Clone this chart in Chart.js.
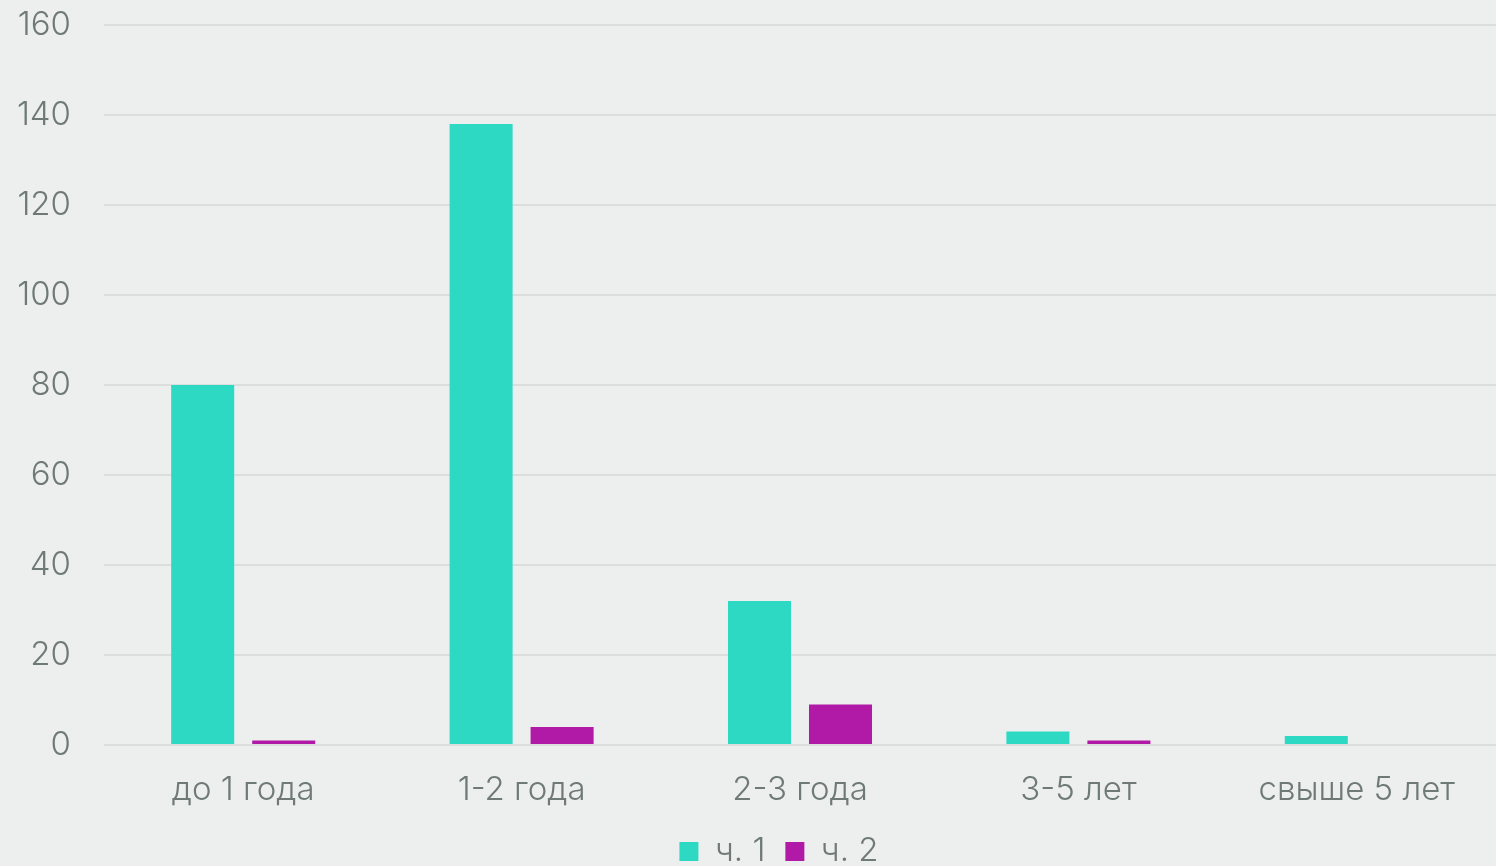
<!DOCTYPE html>
<html>
<head>
<meta charset="utf-8">
<script src="https://cdn.jsdelivr.net/npm/chart.js@4"></script>
<style>
  html, body { margin: 0; padding: 0; background: #edefee; }
  #wrap { width: 1496px; height: 866px; }
</style>
</head>
<body>
<div id="wrap"><canvas id="chart"></canvas></div>
<script>
const categories = ['до 1 года', '1-2 года', '2-3 года', '3-5 лет', 'свыше 5 лет']
const part1 = [80, 138, 32, 3, 2]
const part2 = [1, 4, 9, 1, 0]
const seriesNames = ['ч. 1', 'ч. 2']

const textColor = '#6f7a76'
const fontFamily = "'Inter', 'Lato', 'Open Sans', sans-serif"
const font = { family: fontFamily, size: 33, weight: 300 }

// legend in the original sits a bit right of the canvas centre
const shiftLegend = {
  id: 'shiftLegend',
  afterLayout(chart) {
    chart.legend.left += 31
    chart.legend.right += 31
  }
}

const tempChart = new Chart(document.getElementById('chart'), {
  type: 'bar',
  data: {
    labels: categories,
    datasets: [
      { label: seriesNames[0], data: part1, backgroundColor: '#2ed9c3' },
      { label: seriesNames[1], data: part2, backgroundColor: '#b01aa7' }
    ]
  },
  options: {
    responsive: true,
    maintainAspectRatio: false,
    animation: false,
    categoryPercentage: 0.582,
    barPercentage: 0.778,
    layout: { padding: { top: 0, right: 0, left: 0, bottom: -12 } },
    plugins: {
      legend: {
        position: 'bottom',
        labels: {
          color: textColor,
          boxWidth: 19,
          boxHeight: 19,
          padding: 20,
          font: font
        }
      },
      tooltip: { enabled: false }
    },
    scales: {
      x: {
        grid: { display: false },
        border: { display: false },
        afterFit: axis => { axis.height = 70 },
        ticks: { color: textColor, padding: 17, font: font }
      },
      y: {
        min: 0,
        max: 160,
        afterFit: axis => {
          axis.width = 104
          axis.paddingTop = 25
          axis.paddingBottom = 0
        },
        ticks: { stepSize: 20, color: textColor, padding: 33, font: font },
        grid: { color: '#dcdedd', lineWidth: 2, drawTicks: false },
        border: { display: false }
      }
    }
  },
  plugins: [shiftLegend]
})
</script>
</body>
</html>
